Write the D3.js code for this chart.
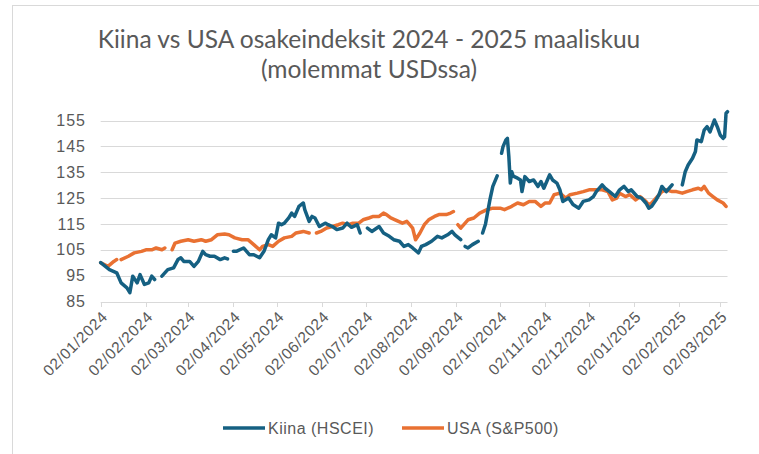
<!DOCTYPE html>
<html>
<head>
<meta charset="utf-8">
<script src="https://cdn.jsdelivr.net/npm/d3@7"></script>
<style>
  body { margin: 0; background: #fff; }
  svg { display: block; font-family: "Liberation Sans", Arial, sans-serif; }
</style>
</head>
<body>
<svg width="759" height="454"></svg>
<script>
// Kiina (HSCEI), rebased to 100, in USD
const chinaDates = [
  '2024-01-02','2024-01-08','2024-01-13','2024-01-16','2024-01-20','2024-01-22','2024-01-24','2024-01-27','2024-01-29',
  '2024-02-01','2024-02-04','2024-02-06','2024-02-08','2024-02-10','2024-02-13','2024-02-17','2024-02-21','2024-02-24','2024-02-26','2024-02-28',
  '2024-03-03','2024-03-06','2024-03-09','2024-03-12','2024-03-14','2024-03-17','2024-03-20','2024-03-24','2024-03-27','2024-03-29','2024-03-31',
  '2024-04-02','2024-04-04','2024-04-09','2024-04-13','2024-04-16','2024-04-20','2024-04-23','2024-04-26','2024-04-28',
  '2024-05-01','2024-05-03','2024-05-05','2024-05-07','2024-05-10','2024-05-12','2024-05-14','2024-05-17','2024-05-20','2024-05-21','2024-05-24','2024-05-26','2024-05-28','2024-05-31',
  '2024-06-04','2024-06-06','2024-06-09','2024-06-12','2024-06-16','2024-06-19','2024-06-22','2024-06-26','2024-06-28','2024-06-30',
  '2024-07-03','2024-07-06','2024-07-11','2024-07-14','2024-07-18','2024-07-21','2024-07-25','2024-07-28','2024-07-31',
  '2024-08-03','2024-08-07','2024-08-09','2024-08-12','2024-08-16','2024-08-20','2024-08-23','2024-08-27','2024-08-30',
  '2024-09-01','2024-09-05','2024-09-06','2024-09-08','2024-09-10','2024-09-13','2024-09-17','2024-09-18','2024-09-20','2024-09-22','2024-09-25','2024-09-27','2024-09-30',
  '2024-10-01','2024-10-03','2024-10-04','2024-10-06','2024-10-07','2024-10-08','2024-10-09','2024-10-10','2024-10-11','2024-10-14','2024-10-16','2024-10-17','2024-10-19','2024-10-22','2024-10-25','2024-10-28','2024-10-30',
  '2024-11-01','2024-11-03','2024-11-05','2024-11-07','2024-11-10','2024-11-12','2024-11-14','2024-11-18','2024-11-21','2024-11-25','2024-11-28',
  '2024-12-02','2024-12-05','2024-12-07','2024-12-11','2024-12-13','2024-12-16','2024-12-20','2024-12-23','2024-12-26','2024-12-29','2024-12-31',
  '2025-01-04','2025-01-07','2025-01-10','2025-01-12','2025-01-14','2025-01-17','2025-01-19','2025-01-21','2025-01-24','2025-01-26','2025-01-28','2025-01-30',
  '2025-02-04','2025-02-06','2025-02-08','2025-02-11','2025-02-13','2025-02-14','2025-02-17','2025-02-19','2025-02-21','2025-02-23','2025-02-26','2025-02-28',
  '2025-03-02','2025-03-04','2025-03-05','2025-03-06','2025-03-07'
]
const chinaValues = [
  100, 97.3, 96.1, 92.2, 90.3, 88.4, 94.8, 92.2, 95.4,
  91.6, 92.2, 94.8, 93.5, null, 94.8, 97.3, 98, 101.2, 101.9, 100.5,
  100.5, 98.6, 100.5, 104.4, 103.1, 102.5, 102.5, 101.2, 101.9, 101.5, null,
  104.4, 104.4, 105.7, 103.1, 103.1, 101.9, 104.4, 108.9, 110.8,
  109.6, 115.3, 114.7, 115.3, 117.3, 119.2, 117.9, 121.8, 123.1, 120.5, 116, 117.9, 117.3, 114,
  115.3, 114.7, 114, 112.8, 113.4, 115.3, 113.7, 114.7, 111.5, null,
  113.4, 112.1, 114, 111.5, 110.2, 108.9, 108.3, 106.3, 107,
  105.7, 103.8, 106.3, 107, 108.3, 110.2, 109.6, 110.8, 112.1,
  110.8, 108.9, null, 106.3, 105.7, 107, 108.3, null, 111.5, 115, 124.3, 129.5, 133.6,
  null, 142.3, 144.9, 147.5, 148.1, 141, 130.8, 135.2, 133.5, 132.7, 132, 127.5, 133.3, 131.4, 132, 129.5, 131.4,
  128.8, 131.4, 134, 132, 130.8, 128.2, 123.7, 125, 122.5, 121.1, 123.7,
  124.3, 125.6, 127.5, 130.1, 128.8, 127.5, 125.6, 128.2, 129.5, 127.5, 128.2,
  125.6, 125, 123.1, 121.1, 121.8, 124.3, 126.3, 129.5, 127.5, 128.8, 130.1, null,
  130.1, 135.2, 137.8, 140.4, 143, 147.5, 146.8, 151.3, 152.6, 150.6, 155.2, 152.6,
  149.4, 148.1, 148.7, 157.8, 158.4
]

// USA (S&P500), rebased to 100
const usaDates = [
  '2024-01-02','2024-01-07','2024-01-11','2024-01-13','2024-01-15','2024-01-16','2024-01-21','2024-01-25','2024-01-30',
  '2024-02-02','2024-02-06','2024-02-09','2024-02-13','2024-02-15','2024-02-18','2024-02-20','2024-02-22','2024-02-26',
  '2024-03-02','2024-03-06','2024-03-11','2024-03-14','2024-03-18','2024-03-22','2024-03-27','2024-03-30',
  '2024-04-03','2024-04-08','2024-04-12','2024-04-16','2024-04-20','2024-04-22','2024-04-26','2024-04-29',
  '2024-05-03','2024-05-07','2024-05-12','2024-05-15','2024-05-20','2024-05-24','2024-05-27','2024-05-29',
  '2024-06-01','2024-06-05','2024-06-09','2024-06-13','2024-06-16','2024-06-20','2024-06-23','2024-06-27','2024-06-30',
  '2024-07-04','2024-07-07','2024-07-11','2024-07-14','2024-07-16','2024-07-19','2024-07-22','2024-07-27','2024-07-30',
  '2024-08-01','2024-08-03','2024-08-05','2024-08-08','2024-08-11','2024-08-14','2024-08-18','2024-08-21','2024-08-26','2024-08-29','2024-08-31',
  '2024-09-02','2024-09-03','2024-09-05','2024-09-08','2024-09-10','2024-09-14','2024-09-18','2024-09-23','2024-09-27',
  '2024-10-02','2024-10-05','2024-10-10','2024-10-14','2024-10-18','2024-10-22','2024-10-26','2024-10-30',
  '2024-11-02','2024-11-05','2024-11-08','2024-11-12','2024-11-16','2024-11-19','2024-11-24','2024-11-28',
  '2024-12-02','2024-12-07','2024-12-11','2024-12-15','2024-12-18','2024-12-21','2024-12-23','2024-12-27','2024-12-30',
  '2025-01-03','2025-01-06','2025-01-10','2025-01-12','2025-01-14','2025-01-18','2025-01-21','2025-01-24','2025-01-28','2025-01-31',
  '2025-02-04','2025-02-07','2025-02-11','2025-02-15','2025-02-17','2025-02-19','2025-02-22','2025-02-25','2025-02-28',
  '2025-03-04','2025-03-06'
]
const usaValues = [
  100, 98.6, 100.5, 101.2, null, 101.2, 102.5, 103.8, 104.4,
  105, 105, 105.7, 105, 105.7, null, 105, 107.6, 108.3,
  108.9, 108.3, 108.9, 108.3, 108.9, 110.8, 111.1, 110.8,
  109.6, 108.9, 108.9, 107, 105, 106.3, 107, 106.3,
  108.3, 109.6, 110.2, 111.5, 112.1, 111.5, null, 111.5,
  112.1, 113.4, 114, 114.7, 115.3, 114.7, 115.3, 115.3, 116.6,
  117.3, 117.9, 117.9, 119.2, 118.6, 117.3, 116.6, 115.3, 116,
  114.7, 113.4, 108.9, 111.5, 114.7, 116.6, 117.9, 118.6, 118.6, 119.2, 119.8,
  null, 114.7, 113.4, 115.3, 116.6, 117.3, 119.2, 120.5, 121.1,
  121.1, 120.5, 121.8, 123.1, 122.4, 123.7, 123.7, 121.8,
  123.1, 123.1, 126.3, 126.9, 125, 126.3, 126.9, 127.5,
  128.2, 128.2, 128.2, 127.5, 124.3, 125, 126.9, 125.6, 126.3,
  124.3, 125.6, 123.7, 122.4, 123.1, 125.6, 127.5, 128.2, 127.5, 127.5,
  126.9, 127.5, 128.2, 128.8, 128.2, 129.5, 126.9, 125.6, 124.3,
  123.1, 121.8
]

const yTicks = [85, 95, 105, 115, 125, 135, 145, 155]
const xTickDates = [
  '2024-01-02','2024-02-02','2024-03-02','2024-04-02','2024-05-02','2024-06-02','2024-07-02',
  '2024-08-02','2024-09-02','2024-10-02','2024-11-02','2024-12-02','2025-01-02','2025-02-02','2025-03-02'
]
const seriesNames = ['Kiina (HSCEI)', 'USA (S&P500)']
const seriesColors = ['#156082', '#E97132']
const titleLines = ['Kiina vs USA osakeindeksit 2024 - 2025 maaliskuu', '(molemmat USDssa)']

const parse = d3.timeParse('%Y-%m-%d')
const fmt = d3.timeFormat('%d/%m/%Y')
const svg = d3.select('svg')
const textColor = '#595959'
const gridColor = '#d9d9d9'

// chart area border
svg.append('rect')
  .attr('x', 12.5).attr('y', 5.5)
  .attr('width', 800).attr('height', 500)
  .attr('fill', 'none').attr('stroke', gridColor)

const x = d3.scaleTime()
  .domain([parse('2024-01-02'), parse('2025-03-07')])
  .range([100.7, 727.5])
const y = d3.scaleLinear()
  .domain([85, 155])
  .range([301.5, 120.5])

// title, sized so the first line spans about the same width as in the original
const title = svg.append('g').attr('fill', textColor)
const titleTexts = titleLines.map((t, i) =>
  title.append('text')
    .attr('x', 369).attr('y', 48 + i * 30)
    .attr('text-anchor', 'middle')
    .style('font-family', 'Lato, sans-serif')
    .style('font-size', '22px')
    .text(t))
const fitSize = 22 * 543 / titleTexts[0].node().getComputedTextLength()
titleTexts.forEach(t => t.style('font-size', fitSize + 'px'))

// grid
svg.append('g')
  .selectAll('line')
  .data(yTicks)
  .join('line')
  .attr('x1', x.range()[0]).attr('x2', x.range()[1])
  .attr('y1', d => Math.round(y(d)) + 0.5).attr('y2', d => Math.round(y(d)) + 0.5)
  .attr('stroke', gridColor).attr('stroke-width', 1)

svg.append('g')
  .selectAll('text')
  .data(yTicks)
  .join('text')
  .attr('x', 86).attr('y', d => y(d))
  .attr('dy', '0.35em')
  .attr('text-anchor', 'end')
  .attr('fill', textColor)
  .style('font-size', '16px')
  .style('letter-spacing', '1px')
  .text(d => d)

// x ticks + labels
const xTicks = xTickDates.map(parse)
svg.append('g')
  .selectAll('line')
  .data(xTicks)
  .join('line')
  .attr('x1', d => Math.round(x(d)) + 0.5).attr('x2', d => Math.round(x(d)) + 0.5)
  .attr('y1', 302).attr('y2', 307)
  .attr('stroke', gridColor)

svg.append('g')
  .selectAll('text')
  .data(xTicks)
  .join('text')
  .attr('transform', d => `translate(${x(d) + 4}, 314) rotate(-45)`)
  .attr('text-anchor', 'end')
  .attr('dy', '0.35em')
  .attr('fill', textColor)
  .style('font-size', '15.5px')
  .style('letter-spacing', '0.6px')
  .text(d => fmt(d))

// lines
const series = [
  chinaDates.map((d, i) => ({date: parse(d), value: chinaValues[i]})),
  usaDates.map((d, i) => ({date: parse(d), value: usaValues[i]}))
]
const line = d3.line()
  .defined(d => d.value !== null)
  .x(d => x(d.date))
  .y(d => y(d.value))

// draw USA first, China on top
;[1, 0].forEach(i => {
  svg.append('path')
    .datum(series[i])
    .attr('d', line)
    .attr('fill', 'none')
    .attr('stroke', seriesColors[i])
    .attr('stroke-width', 3.5)
    .attr('stroke-linejoin', 'round')
    .attr('stroke-linecap', 'round')
})

// legend
const legendX = [223, 402]
seriesNames.forEach((name, i) => {
  const g = svg.append('g').attr('transform', `translate(${legendX[i]}, 428)`)
  g.append('line')
    .attr('x1', 0).attr('x2', 42)
    .attr('stroke', seriesColors[i]).attr('stroke-width', 3.5)
  g.append('text')
    .attr('x', 45).attr('dy', '0.35em')
    .attr('fill', textColor)
    .style('font-size', '16px')
    .style('letter-spacing', '0.5px')
    .text(name)
})
</script>
</body>
</html>
